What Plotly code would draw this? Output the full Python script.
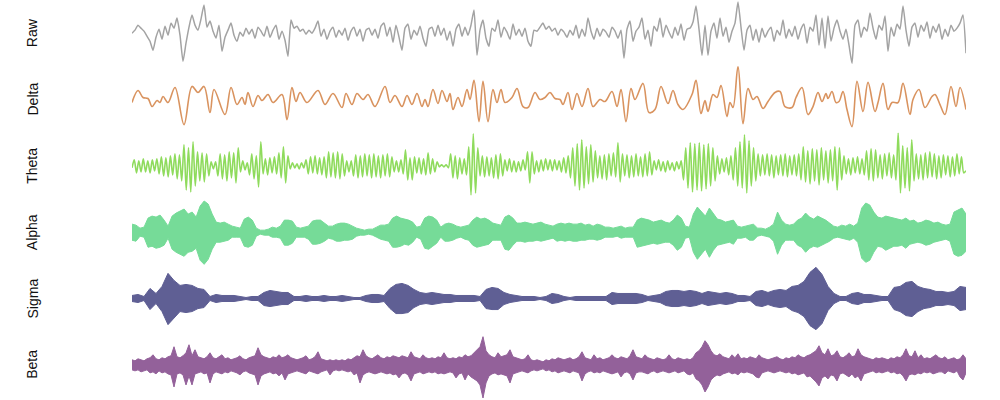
import numpy as np
import plotly.graph_objects as go
from plotly.subplots import make_subplots

DUR = 30.0      # seconds shown
NS = 834        # sample grid used for the delta peak positions

bands = ["Raw", "Delta", "Theta", "Alpha", "Sigma", "Beta"]
colors = ["#a3a3a3", "#d9935f", "#8fdb5d", "#76db98", "#5f5f94", "#93619a"]

raw = [0, 3, 8, 5, 2, -3, -8, -17, -4, 4, -6, 7, -2, 10, 5, 15, -2, -28, -10, 6,
       18, 8, 3, 14, 28, 6, 12, 2, -5, 8, -18, -4, 3, 10, -2, -8, 1, -3, 5, -1,
       4, -5, 6, 2, -3, 7, -4, 3, 8, -6, 2, -7, -23, 13, 5, 7, 2, 4, -1, 3,
       0, 5, 12, -3, 4, -6, 2, 6, -4, 3, -2, 5, -7, 2, 6, -3, 4, -8, 3, 5,
       -2, 4, -5, 7, 10, -3, 6, -9, 8, -4, -17, 5, 9, -6, 3, -2, 7, -5, -13, 4,
       6, -3, 8, -2, 5, -7, 2, -13, 4, 9, -3, 6, -2, 8, 23, -22, 3, 13, -5, -13,
       5, 2, 13, -4, 6, 1, -6, 9, -2, 4, -3, 5, -8, -13, 3, 2, 6, 10, 4, 7,
       2, 5, -2, 4, 1, -4, 3, -2, 8, -5, 4, -3, 15, 2, -6, 5, -3, 4, 1, -4,
       6, 2, -5, 3, -25, 4, 12, -8, 2, 6, 15, -6, 3, -13, 7, 2, 15, -4, 8, 1,
       -5, 6, -2, 9, -7, 4, 5, 11, 27, 4, -22, 8, -22, 2, 10, -5, 15, -3, 6, -9,
       2, 10, 31, 6, -17, 3, 8, -7, 4, -9, 5, -4, 2, 6, -8, 3, -2, 13, -5, 4,
       -3, 7, -6, 4, 9, -10, 6, 2, 18, -12, 15, -15, 17, -8, 5, 13, 2, -6, 4, -12,
       -30, 8, 13, -4, 6, 2, 20, 5, -6, 8, 3, 17, -18, 6, -3, 9, 4, 27, 3, -13,
       6, 10, -4, 8, 2, 11, -5, 7, 1, 9, -6, 4, -3, 8, 2, 5, 10, 18, -20]

delta_idx = [0, 6, 11, 16, 20, 25, 28, 31, 36, 43, 52, 60, 66, 72, 78, 82, 93, 99, 105, 110,
             113, 116, 121, 126, 130, 136, 141, 150, 155, 160, 164, 168, 175, 186, 193, 201, 210, 214, 220, 225,
             231, 236, 243, 253, 258, 263, 270, 275, 280, 285, 290, 293, 296, 301, 306, 310, 315, 318, 321, 326,
             330, 335, 338, 342, 347, 351, 356, 361, 365, 369, 373, 380, 385, 391, 396, 403, 408, 413, 418,
             423, 428, 431, 436, 440, 445, 450, 456, 461, 468, 473, 480, 485, 489, 494, 499, 503, 511, 517, 523,
             529, 536, 541, 546, 551, 560, 564, 569, 573, 576, 581, 585, 589, 595, 598, 601, 606, 611, 616, 621,
             625, 631, 636, 643, 648, 653, 660, 664, 670, 676, 681, 686, 690, 694, 696, 700, 704, 707, 711, 715,
             720, 725, 731, 736, 743, 746, 751, 756, 760, 766, 771, 778, 781, 787, 793, 800, 803, 808, 813, 819,
             824, 828, 834]
delta_val = [-3, 9, 2, 1, -7, -1, -3, 3, -3, 12, -25, 13, 7, 13, -13, 10, -15, 12, -5, 2,
             -5, 7, -7, 4, -1, 5, -3, 5, -20, 12, -2, 7, -3, 9, -5, 6, -8, 6, -5, 6,
             0, 5, -7, 13, -3, 4, -7, 4, -5, 6, -7, 0, -7, 10, -4, 9, -2, 6, -10, 2,
             -7, 10, 0, 19, -22, 18, -22, 10, -3, 10, -3, 2, 11, -7, -8, 7, 0, 2, 7,
             1, 0, -5, 7, -10, 6, -7, 11, -7, 0, -2, 8, -7, 10, -22, 11, 0, 16, -13, -10,
             13, -4, 9, -5, -10, 5, 19, -14, -1, -12, 5, 2, 14, -17, -3, -8, 33, -24, 11, 0,
             3, -9, -2, 7, 8, -7, -8, 2, 12, -15, -7, 7, -2, 6, 1, 8, -3, -2, 8, -10,
             -27, 18, -12, 17, -12, -3, 16, -10, -3, -3, 16, -15, 0, 10, -8, 3, 5, -5, -15, 13,
             -7, 12, -10]

theta = [-2, 6, -7, 5, -6, 7, -6, 5, -7, 6, -5, 7,
         -8, 9, -10, 8, -11, 10, -9, 12, -13, 11, -15, 21,
         -24, 18, -26, 24, -20,
         14, -15, 13, -16, 12, -10,
         4, -3, 4,
         -10, 12, -13, 11, -15, 14, -12, 13, -17, 18,
         -6, 5, -4, 3,
         -9, 12, -13, 10, -21, 24,
         -8, 7, -9, 8, -7, 9, -8, 13,
         -12, 19, -17, 10,
         -3, 3, -2, 2, -3, 3, -2,
         6, -8, 9, -7, 10, -8, 8, -9, 9,
         -12, 14, -11, 13, -12, 14, -13, 12, -10,
         5, -6, 5,
         -10, 11, -12, 10, -11, 12, -10, 11, -12, 12, -11, 10, -12, 11, -10, 12, -11, 9,
         -6, 5, -6, 6,
         -8, 16, -14, 8, -14, 9,
         -7, 8, -8, 7, -9, 13, -8, 7, -6, 4,
         -1, 1, -1, 1, -2,
         12, -12, 10, -13, 8,
         -8, 7, -9, 19,
         -29, 32, -27, 18,
         -10, 10, -11, 9, -10, 8,
         -12, 11, -13, 12, -10,
         6, -5, 7, -6, 5, -6, 4, -5, 6, -4,
         14, -17, 14, -8,
         5, -6, 6, -5, 7, -4, 6,
         -5, 6, -4, 5, -6, 8, -7, 10,
         -12, 18, -20, 22, -24, 26, -22, 19, -18, 21, -16, 15,
         -12, 10, -13, 11, -14, 12, -10, 13, -11, 23, -16,
         12, -10, 11, -12, 10, -11, 12, -10, 9, -11, 12, -10, 14, -9,
         5, -4, 6, -5, 4, -6, 5, -4, 3, -5, 4, -3, 5,
         -14, 18, -22, 23, -26, 22, -24, 23, -25, 21, -23, 22, -20, 18, -15, 10,
         -8, 7, -6, 8, -9, 10,
         -14, 18, -20, 24, -22, 31, -27, 25, -20, 18, -15, 12,
         -10, 11, -9, 12, -10, 11, -12, 10, -9, 11, -10, 12, -11, 10, -9, 11, -10, 12,
         -14, 19, -16, 15, -18, 17, -15, 16, -19, 18, -14, 15, -17, 16, -15, 19, -24, 18, -14, 10,
         -8, 7, -9, 8, -7, 9, -8, 7, -9,
         15, -14, 17, -15, 16,
         -12, 11, -13, 12, -10, 13, -12, 11, -14,
         33, -27, 20, -22, 18, -25, 26, -15,
         12, -13, 11, -14, 13, -12, 14, -11, 12, -13, 10, -12,
         11, -9, 10, -11, 9, -10, 12, -8, 9, -7, -5]

alpha_upper = [8, 7, 4, 5, 14, 16, 15, 17, 12, 6, 16, 19, 21, 23, 18, 20, 15, 26, 31, 28,
               18, 10, 9, 10, 8, 6, 5, 4, 13, 15, 12, 4, 2, 2, 3, 5, 4, 6, 12, 12,
               11, 5, 4, 5, 6, 11, 12, 12, 9, 6, 6, 8, 9, 9, 8, 6, 4, 3, 2, 3,
               3, 5, 7, 7, 8, 14, 16, 14, 13, 12, 10, 5, 6, 14, 16, 15, 12, 5, 8, 9,
               8, 6, 5, 6, 7, 12, 15, 13, 14, 12, 9, 8, 7, 15, 17, 14, 9, 9, 10, 9,
               8, 9, 10, 8, 7, 6, 8, 9, 8, 9, 8, 8, 9, 7, 8, 6, 8, 7, 5, 5,
               4, 5, 6, 4, 5, 5, 12, 14, 13, 12, 10, 11, 12, 10, 9, 12, 17, 14, 6, 5,
               18, 25, 20, 16, 24, 18, 13, 12, 10, 11, 12, 6, 5, 6, 7, 8, 4, 4, 3, 5,
               8, 20, 12, 8, 7, 8, 12, 14, 19, 15, 13, 16, 14, 12, 9, 6, 5, 7, 6, 8,
               6, 9, 24, 29, 27, 20, 15, 14, 16, 15, 14, 13, 12, 14, 11, 12, 9, 10, 12, 11,
               9, 10, 8, 7, 8, 20, 22, 24, 18]
alpha_lower = [-8, -9, -4, -5, -15, -14, -16, -15, -13, -6, -17, -20, -22, -24, -20, -19, -16, -28, -32, -27,
               -17, -10, -10, -9, -8, -5, -5, -5, -14, -15, -13, -4, -2, -3, -3, -5, -5, -6, -13, -13,
               -11, -5, -5, -5, -7, -12, -12, -11, -9, -6, -7, -9, -9, -8, -8, -7, -4, -3, -3, -2,
               -3, -5, -7, -8, -9, -15, -15, -14, -12, -13, -10, -5, -7, -16, -17, -14, -11, -5, -9, -9,
               -8, -6, -5, -7, -8, -13, -15, -14, -13, -12, -8, -8, -8, -17, -18, -13, -9, -9, -10, -9,
               -9, -8, -9, -8, -7, -6, -9, -8, -9, -8, -9, -9, -8, -8, -7, -7, -8, -7, -5, -5,
               -5, -4, -6, -5, -5, -5, -15, -14, -13, -12, -11, -12, -11, -10, -10, -13, -18, -15, -6, -5,
               -20, -27, -22, -17, -25, -18, -13, -12, -11, -10, -12, -6, -6, -5, -8, -8, -4, -3, -4, -5,
               -9, -22, -13, -8, -8, -8, -13, -15, -20, -16, -14, -15, -13, -11, -9, -6, -5, -6, -7, -8,
               -6, -10, -26, -30, -28, -20, -14, -15, -18, -16, -14, -14, -13, -16, -12, -11, -10, -11, -13, -12,
               -10, -9, -8, -7, -9, -22, -24, -23, -19]

sigma_upper = [3, 4, 2, 10, 5, 12, 25, 18, 13, 14, 13, 10, 9, 2, 4, 3, 3, 3, 2, 1,
               2, 2, 6, 8, 7, 6, 6, 2, 2, 3, 2, 2, 3, 2, 2, 3, 2, 1, 1, 3,
               4, 4, 3, 10, 14, 15, 13, 9, 6, 5, 6, 5, 4, 4, 3, 3, 3, 3, 2, 9,
               11, 10, 6, 4, 3, 2, 2, 2, 1, 2, 5, 4, 2, 1, 2, 2, 2, 2, 2, 2,
               6, 5, 5, 5, 5, 4, 2, 3, 4, 7, 8, 8, 7, 8, 7, 5, 7, 6, 5, 6,
               5, 3, 3, 2, 7, 8, 6, 8, 9, 8, 12, 13, 17, 26, 31, 24, 12, 5, 2, 2,
               5, 6, 4, 4, 3, 2, 2, 11, 12, 16, 17, 12, 10, 9, 7, 7, 6, 7, 12, 11]
sigma_lower = [-3, -4, -2, -11, -5, -13, -26, -19, -13, -14, -13, -10, -9, -2, -4, -3, -3, -3, -2, -1,
               -2, -2, -7, -8, -7, -6, -6, -2, -2, -3, -2, -2, -3, -2, -2, -3, -2, -1, -1, -3,
               -4, -4, -3, -10, -15, -15, -14, -9, -6, -5, -6, -5, -4, -4, -3, -3, -3, -3, -2, -10,
               -11, -11, -6, -4, -3, -2, -2, -2, -1, -2, -5, -4, -2, -1, -2, -2, -2, -2, -2, -2,
               -6, -5, -5, -5, -5, -4, -2, -3, -4, -7, -8, -8, -7, -8, -7, -5, -7, -6, -5, -6,
               -5, -3, -3, -2, -7, -8, -6, -8, -9, -8, -12, -14, -18, -27, -31, -25, -12, -5, -2, -2,
               -5, -6, -4, -4, -3, -2, -2, -11, -13, -17, -18, -13, -10, -9, -7, -7, -6, -7, -12, -11]

beta_upper = [5, 4, 6, 5, 4, 6, 7, 10, 6, 5, 7, 6, 8, 9, 18, 8, 7, 9, 12, 20,
              9, 15, 8, 7, 6, 8, 12, 7, 6, 8, 10, 6, 7, 5, 6, 7, 9, 6, 5, 7,
              8, 9, 17, 10, 8, 7, 6, 8, 7, 10, 7, 8, 10, 7, 6, 5, 6, 7, 9, 5,
              6, 8, 13, 6, 5, 4, 5, 4, 5, 4, 5, 4, 6, 5, 7, 9, 8, 15, 9, 7,
              6, 8, 10, 7, 6, 8, 7, 9, 8, 7, 9, 8, 7, 13, 8, 7, 6, 10, 7, 6,
              7, 6, 8, 7, 12, 7, 6, 7, 6, 8, 7, 10, 8, 9, 12, 14, 18, 28, 14, 10,
              8, 7, 12, 8, 9, 10, 15, 8, 7, 6, 5, 6, 10, 5, 4, 5, 4, 3, 5, 4,
              6, 5, 7, 6, 5, 6, 7, 5, 6, 8, 13, 7, 6, 5, 10, 6, 7, 5, 6, 7,
              10, 7, 6, 8, 7, 6, 9, 15, 8, 7, 6, 10, 7, 6, 5, 7, 6, 5, 6, 10,
              6, 5, 7, 6, 5, 6, 5, 7, 12, 14, 18, 24, 20, 14, 10, 9, 11, 8, 7, 6,
              10, 7, 11, 6, 7, 6, 8, 7, 6, 10, 7, 6, 5, 6, 7, 8, 6, 5, 7, 6,
              8, 7, 10, 8, 7, 9, 10, 12, 14, 19, 12, 10, 16, 9, 10, 14, 8, 7, 9, 12,
              8, 9, 16, 10, 8, 7, 6, 5, 7, 6, 7, 6, 5, 7, 6, 8, 7, 10, 16, 9,
              8, 14, 7, 10, 6, 7, 6, 8, 10, 7, 6, 8, 5, 6, 7, 5, 6, 10, 6]
beta_lower = [-5, -6, -5, -7, -6, -5, -8, -7, -9, -6, -8, -7, -9, -10, -22, -9, -8, -10, -20, -11,
              -20, -9, -8, -7, -9, -8, -18, -9, -7, -8, -9, -7, -8, -6, -7, -8, -10, -7, -6, -8,
              -9, -10, -20, -11, -9, -8, -7, -9, -8, -11, -8, -15, -9, -8, -7, -6, -7, -8, -9, -6,
              -7, -8, -9, -7, -6, -5, -10, -6, -5, -6, -5, -6, -7, -6, -10, -8, -18, -10, -8, -7,
              -8, -9, -8, -7, -8, -9, -8, -10, -9, -13, -9, -8, -10, -16, -9, -8, -7, -9, -8, -7,
              -8, -7, -9, -8, -9, -8, -7, -8, -13, -9, -8, -15, -9, -12, -14, -16, -20, -33, -18, -11,
              -9, -8, -10, -9, -10, -11, -18, -9, -8, -7, -6, -7, -8, -6, -5, -6, -5, -4, -6, -5,
              -7, -6, -8, -7, -6, -7, -8, -6, -7, -8, -16, -9, -7, -6, -8, -7, -8, -6, -7, -8,
              -9, -8, -7, -12, -8, -7, -9, -15, -8, -7, -7, -8, -9, -7, -6, -8, -7, -6, -7, -8,
              -7, -6, -8, -7, -6, -9, -10, -8, -14, -16, -20, -27, -22, -15, -12, -10, -11, -9, -8, -7,
              -9, -8, -10, -7, -8, -7, -8, -9, -12, -13, -8, -7, -6, -7, -8, -7, -6, -7, -8, -7,
              -9, -8, -10, -9, -8, -12, -11, -14, -17, -21, -13, -11, -14, -10, -11, -16, -9, -8, -10, -12,
              -9, -13, -11, -16, -9, -8, -7, -6, -8, -7, -8, -7, -6, -8, -7, -9, -8, -11, -16, -10,
              -9, -10, -8, -9, -7, -8, -7, -9, -8, -7, -7, -9, -6, -7, -8, -6, -12, -15, -8]


def grid(n):
    return np.linspace(0, DUR, n)


fig = make_subplots(rows=6, cols=1, shared_xaxes=True, vertical_spacing=0.0)

# Raw
fig.add_trace(go.Scatter(x=grid(len(raw)), y=raw, mode="lines",
                         line=dict(color=colors[0], width=1.5, shape="spline", smoothing=0.5)),
              row=1, col=1)
# Delta
t_delta = np.array(delta_idx) * DUR / NS
fig.add_trace(go.Scatter(x=t_delta, y=delta_val, mode="lines",
                         line=dict(color=colors[1], width=1.6, shape="spline", smoothing=1.0)),
              row=2, col=1)
# Theta
fig.add_trace(go.Scatter(x=grid(len(theta)), y=theta, mode="lines",
                         line=dict(color=colors[2], width=1.6, shape="spline", smoothing=0.8)),
              row=3, col=1)


def band(upper, lower, color, row):
    t = grid(len(upper))
    xs = list(t) + list(t[::-1])
    ys = list(upper) + list(lower[::-1])
    fig.add_trace(go.Scatter(x=xs, y=ys, mode="lines", fill="toself",
                             fillcolor=color, line=dict(color=color, width=1)),
                  row=row, col=1)


band(alpha_upper, alpha_lower, colors[3], 4)
band(sigma_upper, sigma_lower, colors[4], 5)
band(beta_upper, beta_lower, colors[5], 6)

for i in range(1, 7):
    fig.update_yaxes(range=[-33, 33], visible=False, row=i, col=1)
    fig.update_xaxes(range=[0, DUR], visible=False, row=i, col=1)
    yref = "y domain" if i == 1 else f"y{i} domain"
    fig.add_annotation(text=bands[i - 1], xref="paper", x=0, xshift=-100,
                       yref=yref, y=0.5, textangle=-90, showarrow=False,
                       xanchor="center", yanchor="middle",
                       font=dict(family="Arial, Liberation Sans, sans-serif", size=14, color="#111111"))

fig.update_layout(width=1000, height=400, showlegend=False, hovermode=False,
                  margin=dict(l=132, r=34, t=0, b=2),
                  plot_bgcolor="white", paper_bgcolor="white")

fig.write_html("out.html", config={"displayModeBar": False},
               post_script="document.body.style.margin='0';document.body.style.padding='0';")
